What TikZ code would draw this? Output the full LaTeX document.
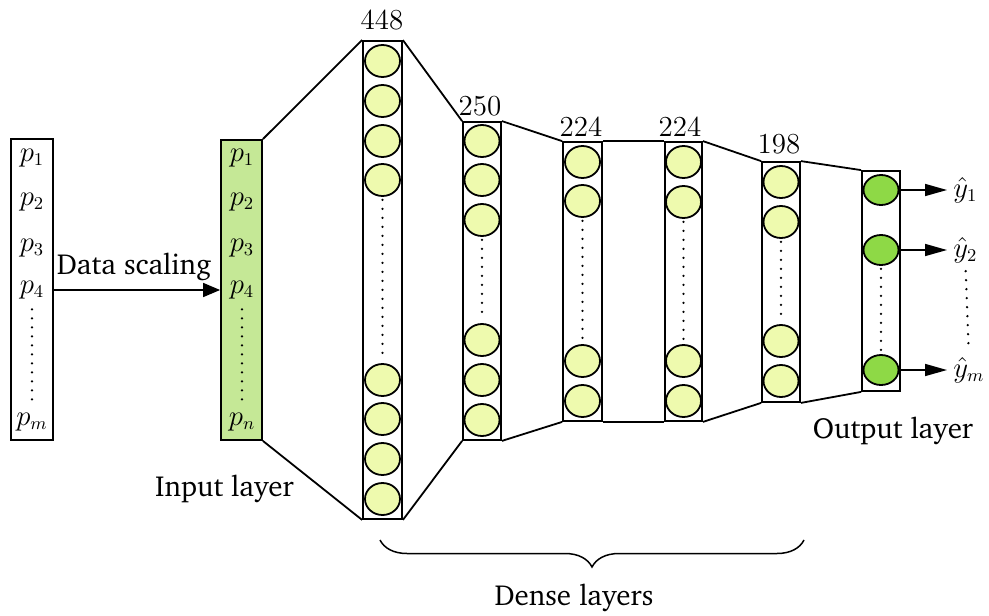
\documentclass[tikz,border=0pt]{standalone}
\usepackage[T1,TU]{fontenc}
\usetikzlibrary{arrows.meta,shapes.geometric,decorations.pathreplacing}
\definecolor{cellfill}{RGB}{238,250,174}
\definecolor{infill}{RGB}{197,232,150}
\definecolor{outfill}{RGB}{142,217,70}
\newcommand\capfont{\fontencoding{T1}\fontfamily{bch}\fontsize{14.5}{17}\selectfont}
\newcommand\symfont{\fontsize{13.5}{15}\selectfont}
\newcommand\numfont{\fontsize{14.5}{16}\selectfont}
\begin{document}
\begin{tikzpicture}[x=0.5pt,y=-0.5pt,
  layer/.style={draw,line width=0.9pt,rectangle,inner sep=0pt},
  cell/.style={draw,line width=0.9pt,ellipse,fill=cellfill,minimum width=17.5pt,minimum height=16pt,inner sep=0pt},
  outcell/.style={cell,fill=outfill,minimum height=15pt},
  link/.style={line width=0.9pt},
  gap/.style={line width=1.3pt,dash pattern=on 0pt off 4.5pt,line cap=round},
  sym/.style={font=\symfont,inner sep=0pt},
  caption/.style={font=\capfont,inner sep=0pt,anchor=base},
  count/.style={font=\numfont,inner sep=0pt},
  inarrow/.style={line width=0.8pt,-{Triangle[length=8.5pt,width=7pt]}},
  outarrow/.style={line width=0.8pt,-{Triangle[length=11pt,width=6pt]}}]
\useasboundingbox (0,0) rectangle (989,615);

% raw parameters and scaled input column
\node[layer,minimum width=21pt,minimum height=150.5pt] (S) at (32,289.5) {};
\node[layer,fill=infill,minimum width=20.5pt,minimum height=150pt] (L0) at (241.5,290) {};

\foreach \k/\yy in {1/158,2/202,3/248,4/290}{
  \node[sym] (s\k) at (32,\yy) {$p_{\k}$};
  \node[sym] (i\k) at (242,\yy) {$p_{\k}$};
}
\node[sym] (sm) at (32,422) {$p_m$};
\node[sym] (in) at (242,422) {$p_n$};
\draw[gap,shorten <=5pt,shorten >=5pt] (s4.south) -- (sm.north);
\draw[gap,shorten <=5pt,shorten >=5pt] (i4.south) -- (in.north);

\draw[inarrow] (s4 -| S.east) -- (i4 -| L0.west);
\node[caption] (ds) at (134,274) {Data scaling};
\node[caption] (il) at (224.5,496) {Input layer};

% hidden dense layers
\node[layer,minimum width=19.5pt,minimum height=239pt] (L1) at (382.5,280) {};
\node[layer,minimum width=19pt,minimum height=159pt] (L2) at (482,281) {};
\node[layer,minimum width=19.5pt,minimum height=139.5pt] (L3) at (582.5,281.5) {};
\node[layer,minimum width=18.5pt,minimum height=139.5pt] (L4) at (683.5,281.5) {};
\node[layer,minimum width=19pt,minimum height=120pt] (L5) at (781,282) {};
\node[layer,minimum width=19pt,minimum height=110pt] (L6) at (881,281) {};

\foreach \k/\yy in {1/61,2/101,3/141,4/180,5/380,6/419,7/459,8/499}
  \node[cell] (a\k) at (382.5,\yy) {};
\draw[gap,shorten <=1.5pt,shorten >=1.5pt] (a4.south) -- (a5.north);

\foreach \k/\yy in {1/141,2/180,3/220,4/340,5/380,6/420}
  \node[cell] (b\k) at (482,\yy) {};
\draw[gap,shorten <=1.5pt,shorten >=1.5pt] (b3.south) -- (b4.north);

\foreach \k/\yy in {1/162,2/201,3/361,4/401}
  \node[cell] (c\k) at (582.5,\yy) {};
\draw[gap,shorten <=1.5pt,shorten >=1.5pt] (c2.south) -- (c3.north);

\foreach \k/\yy in {1/162,2/202,3/361,4/401}
  \node[cell] (d\k) at (683.5,\yy) {};
\draw[gap,shorten <=1.5pt,shorten >=1.5pt] (d2.south) -- (d3.north);

\foreach \k/\yy in {1/182,2/222,3/341,4/381}
  \node[cell] (e\k) at (781,\yy) {};
\draw[gap,shorten <=1.5pt,shorten >=1.5pt] (e2.south) -- (e3.north);

% output layer
\node[outcell] (o1) at (881,190) {};
\node[outcell] (o2) at (881,250) {};
\node[outcell] (om) at (881,370) {};
\draw[gap,shorten <=1.5pt,shorten >=1.5pt] (o2.south) -- (om.north);

\node[sym,anchor=west] (y1) at (953,190) {$\hat{y}_1$};
\node[sym,anchor=west] (y2) at (953,250) {$\hat{y}_2$};
\node[sym,anchor=west] (ym) at (953,370) {$\hat{y}_m$};
\draw[outarrow,shorten >=3pt] (o1.east) -- (y1.west);
\draw[outarrow,shorten >=3pt] (o2.east) -- (y2.west);
\draw[outarrow,shorten >=3pt] (om.east) -- (ym.west);
\draw[gap,shorten <=4pt,shorten >=4pt] (y2.south) -- (ym.north);
\node[caption] (ol) at (893,438) {Output layer};

% widths of the layers
\node[count] (n1) at (382,20) {448};
\node[count] (n2) at (480,106) {250};
\node[count] (n3) at (581,127) {224};
\node[count] (n4) at (680,127) {224};
\node[count] (n5) at (779,144) {198};

% outline joining consecutive layers
\foreach \p/\q in {L0/L1,L1/L2,L2/L3,L3/L4,L4/L5,L5/L6}{
  \draw[link] (\p.north east) -- (\q.north west);
  \draw[link] (\p.south east) -- (\q.south west);
}

% brace under the dense layers
\coordinate (bl) at (380,540);
\coordinate (br) at (804,540);
\draw[line width=0.75pt,decorate,decoration={brace,mirror,amplitude=13.5pt}] (bl) -- (br);
\node[caption] (dl) at (574,605) {Dense layers};
\end{tikzpicture}
\end{document}
